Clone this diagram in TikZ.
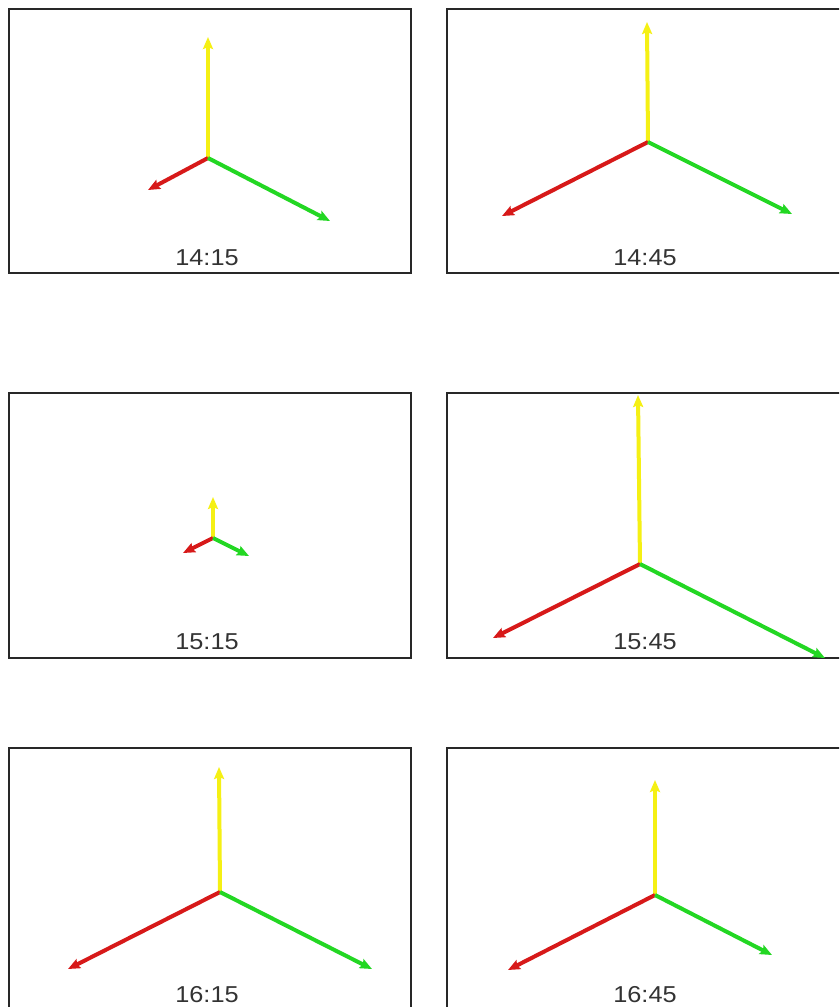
\documentclass[tikz,border=0pt]{standalone}
\usepackage{fontspec}
\setmainfont{Liberation Sans}
\usetikzlibrary{arrows.meta}
\definecolor{axY}{RGB}{245,240,20}
\definecolor{axR}{RGB}{215,25,25}
\definecolor{axG}{RGB}{35,215,35}
\definecolor{frameC}{RGB}{40,40,40}
\tikzset{
  panel/.style={draw=frameC, line width=1.4pt},
  axis/.style={line width=4pt, -{Stealth[length=12pt, width=10pt, inset=2pt]}},
  yax/.style={axis, axY},
  rax/.style={axis, axR},
  gax/.style={axis, axG},
  stamp/.style={font=\fontsize{23}{27}\selectfont, text=black!80, inner sep=0pt, xscale=1.1},
}
\begin{document}
\begin{tikzpicture}[x=1pt, y=-1pt]
\useasboundingbox (0,0) rectangle (839,1007);
\clip (0,0) rectangle (839,1007);
\fill[white] (0,0) rectangle (839,1007);
% frames
\draw[panel] (9,9) rectangle (411,273);
\draw[panel] (447,9) rectangle (860,273);
\draw[panel] (9,393) rectangle (411,658);
\draw[panel] (447,393) rectangle (860,658);
\draw[panel] (9,748) rectangle (411,1030);
\draw[panel] (447,748) rectangle (860,1030);
% panel 1
\coordinate (o1) at (208,158);
\coordinate (y1) at (208,37);
\coordinate (r1) at (148,190);
\coordinate (g1) at (330,221);
\draw[yax] (o1) -- (y1);
\draw[rax] (o1) -- (r1);
\draw[gax] (o1) -- (g1);
\node[stamp] (t1) at (207,258) {14:15};
% panel 2
\coordinate (o2) at (648,142);
\coordinate (y2) at (647,22);
\coordinate (r2) at (502,216);
\coordinate (g2) at (792,214);
\draw[yax] (o2) -- (y2);
\draw[rax] (o2) -- (r2);
\draw[gax] (o2) -- (g2);
\node[stamp] (t2) at (645,258) {14:45};
% panel 3
\coordinate (o3) at (213,538);
\coordinate (y3) at (213,497);
\coordinate (r3) at (183,553);
\coordinate (g3) at (249,556);
\draw[yax] (o3) -- (y3);
\draw[rax] (o3) -- (r3);
\draw[gax] (o3) -- (g3);
\node[stamp] (t3) at (207,642) {15:15};
% panel 4
\coordinate (o4) at (640,564);
\coordinate (y4) at (638,395);
\coordinate (r4) at (493,638);
\coordinate (g4) at (825,658);
\draw[yax] (o4) -- (y4);
\draw[rax] (o4) -- (r4);
\draw[gax] (o4) -- (g4);
\node[stamp] (t4) at (645,642) {15:45};
% panel 5
\coordinate (o5) at (220,892);
\coordinate (y5) at (219,767);
\coordinate (r5) at (68,969);
\coordinate (g5) at (372,969);
\draw[yax] (o5) -- (y5);
\draw[rax] (o5) -- (r5);
\draw[gax] (o5) -- (g5);
\node[stamp] (t5) at (207,995) {16:15};
% panel 6
\coordinate (o6) at (655,895);
\coordinate (y6) at (655,780);
\coordinate (r6) at (508,970);
\coordinate (g6) at (772,955);
\draw[yax] (o6) -- (y6);
\draw[rax] (o6) -- (r6);
\draw[gax] (o6) -- (g6);
\node[stamp] (t6) at (645,995) {16:45};
\end{tikzpicture}
\end{document}
